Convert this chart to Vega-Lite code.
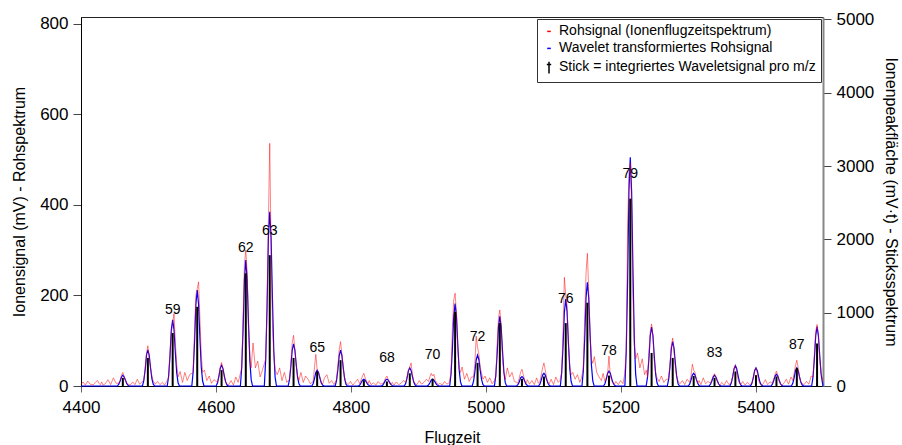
{
  "$schema": "https://vega.github.io/schema/vega-lite/v6.json",
  "width": 742,
  "height": 369,
  "autosize": {"type": "none"},
  "padding": {"left": 81, "top": 17, "right": 79, "bottom": 59},
  "background": "white",
  "datasets": {
    "raw": [
      {"t":4400,"v":3},{"t":4403,"v":9},{"t":4406.5,"v":2},{"t":4410,"v":11},{"t":4413.5,"v":4},
      {"t":4418.7,"v":3},{"t":4420.7,"v":7},{"t":4422.7,"v":10},{"t":4424.7,"v":12},{"t":4426.7,"v":6},{"t":4428.7,"v":3},{"t":4430.7,"v":9},{"t":4432.7,"v":2},
      {"t":4436,"v":5},{"t":4440,"v":14},{"t":4444,"v":3},{"t":4448,"v":18},{"t":4452,"v":6},
      {"t":4456,"v":6},{"t":4458,"v":12},{"t":4460,"v":24},{"t":4462,"v":30},{"t":4464,"v":21},{"t":4466,"v":13},{"t":4468,"v":7},{"t":4470,"v":4},
      {"t":4473,"v":2},{"t":4476.5,"v":9},{"t":4480,"v":3},{"t":4483.5,"v":15},{"t":4487,"v":4},
      {"t":4493.1,"v":13},{"t":4495.1,"v":36},{"t":4497.1,"v":71},{"t":4499.1,"v":89},{"t":4501.1,"v":62},{"t":4503.1,"v":40},{"t":4505.1,"v":22},{"t":4507.1,"v":11},
      {"t":4510,"v":4},{"t":4513.5,"v":10},{"t":4517,"v":3},{"t":4520.5,"v":8},{"t":4524,"v":2},
      {"t":4529.9,"v":18},{"t":4531.9,"v":70},{"t":4533.9,"v":118},{"t":4535.9,"v":140},{"t":4537.9,"v":160},{"t":4539.9,"v":95},{"t":4541.9,"v":48},{"t":4543.9,"v":20},
      {"t":4547,"v":32},{"t":4550.5,"v":8},{"t":4554,"v":30},{"t":4557.5,"v":12},{"t":4561,"v":25},
      {"t":4566.3,"v":30},{"t":4568.3,"v":120},{"t":4570.3,"v":200},{"t":4572.3,"v":215},{"t":4574.3,"v":230},{"t":4576.3,"v":150},{"t":4578.3,"v":70},{"t":4580.3,"v":30},
      {"t":4583,"v":35},{"t":4586.5,"v":12},{"t":4590,"v":22},{"t":4593.5,"v":6},{"t":4597,"v":14},
      {"t":4602.4,"v":8},{"t":4604.4,"v":22},{"t":4606.4,"v":42},{"t":4608.4,"v":52},{"t":4610.4,"v":38},{"t":4612.4,"v":20},{"t":4614.4,"v":10},{"t":4616.4,"v":4},
      {"t":4619,"v":3},{"t":4622.5,"v":12},{"t":4626,"v":2},{"t":4629.5,"v":20},{"t":4633,"v":8},
      {"t":4638.3,"v":40},{"t":4640.3,"v":150},{"t":4642.3,"v":270},{"t":4644.3,"v":300},{"t":4646.3,"v":250},{"t":4648.3,"v":130},{"t":4650.3,"v":65},{"t":4652.3,"v":40},
      {"t":4655,"v":95},{"t":4658.5,"v":40},{"t":4662,"v":55},{"t":4665.5,"v":20},{"t":4669,"v":35},
      {"t":4673.8,"v":60},{"t":4675.8,"v":170},{"t":4677.8,"v":360},{"t":4679.8,"v":536},{"t":4681.8,"v":300},{"t":4683.8,"v":140},{"t":4685.8,"v":70},{"t":4687.8,"v":35},
      {"t":4691,"v":25},{"t":4694.5,"v":40},{"t":4698,"v":12},{"t":4701.5,"v":30},{"t":4705,"v":8},
      {"t":4709.1,"v":15},{"t":4711.1,"v":50},{"t":4713.1,"v":95},{"t":4715.1,"v":112},{"t":4717.1,"v":80},{"t":4719.1,"v":45},{"t":4721.1,"v":22},{"t":4723.1,"v":12},
      {"t":4726,"v":30},{"t":4729.5,"v":8},{"t":4733,"v":22},{"t":4736.5,"v":15},{"t":4740,"v":5},
      {"t":4744.1,"v":10},{"t":4746.1,"v":40},{"t":4748.1,"v":70},{"t":4750.1,"v":35},{"t":4752.1,"v":30},{"t":4754.1,"v":20},{"t":4756.1,"v":8},{"t":4758.1,"v":4},
      {"t":4761,"v":18},{"t":4764.5,"v":25},{"t":4768,"v":6},{"t":4771.5,"v":12},{"t":4775,"v":3},
      {"t":4778.8,"v":14},{"t":4780.8,"v":45},{"t":4782.8,"v":80},{"t":4784.8,"v":98},{"t":4786.8,"v":70},{"t":4788.8,"v":38},{"t":4790.8,"v":18},{"t":4792.8,"v":8},
      {"t":4796,"v":3},{"t":4799.5,"v":10},{"t":4803,"v":2},{"t":4806.5,"v":8},{"t":4810,"v":15},
      {"t":4813.3,"v":5},{"t":4815.3,"v":14},{"t":4817.3,"v":22},{"t":4819.3,"v":28},{"t":4821.3,"v":18},{"t":4823.3,"v":10},{"t":4825.3,"v":4},{"t":4827.3,"v":12},
      {"t":4830,"v":3},{"t":4833.5,"v":7},{"t":4837,"v":2},{"t":4840.5,"v":10},{"t":4844,"v":4},
      {"t":4847.5,"v":6},{"t":4849.5,"v":10},{"t":4851.5,"v":18},{"t":4853.5,"v":22},{"t":4855.5,"v":14},{"t":4857.5,"v":6},{"t":4859.5,"v":3},{"t":4861.5,"v":8},
      {"t":4864,"v":2},{"t":4867.5,"v":9},{"t":4871,"v":3},{"t":4874.5,"v":6},{"t":4878,"v":12},
      {"t":4881.4,"v":8},{"t":4883.4,"v":20},{"t":4885.4,"v":35},{"t":4887.4,"v":42},{"t":4889.4,"v":51},{"t":4891.4,"v":25},{"t":4893.4,"v":10},{"t":4895.4,"v":5},
      {"t":4898,"v":3},{"t":4901.5,"v":12},{"t":4905,"v":4},{"t":4908.5,"v":8},{"t":4912,"v":15},
      {"t":4915.2,"v":10},{"t":4917.2,"v":20},{"t":4919.2,"v":28},{"t":4921.2,"v":22},{"t":4923.2,"v":26},{"t":4925.2,"v":12},{"t":4927.2,"v":8},{"t":4929.2,"v":3},
      {"t":4932,"v":6},{"t":4935.5,"v":2},{"t":4939,"v":10},{"t":4942.5,"v":4},{"t":4946,"v":8},
      {"t":4948.6,"v":30},{"t":4950.6,"v":130},{"t":4952.6,"v":190},{"t":4954.6,"v":205},{"t":4956.6,"v":160},{"t":4958.6,"v":80},{"t":4960.6,"v":40},{"t":4962.6,"v":30},
      {"t":4965,"v":42},{"t":4968.5,"v":15},{"t":4972,"v":28},{"t":4975.5,"v":10},{"t":4979,"v":20},
      {"t":4981.9,"v":20},{"t":4983.9,"v":50},{"t":4985.9,"v":110},{"t":4987.9,"v":85},{"t":4989.9,"v":70},{"t":4991.9,"v":40},{"t":4993.9,"v":28},{"t":4995.9,"v":15},
      {"t":4999,"v":22},{"t":5002.5,"v":8},{"t":5006,"v":18},{"t":5009.5,"v":5},{"t":5013,"v":12},
      {"t":5014.9,"v":20},{"t":5016.9,"v":90},{"t":5018.9,"v":150},{"t":5020.9,"v":168},{"t":5022.9,"v":130},{"t":5024.9,"v":60},{"t":5026.9,"v":30},{"t":5028.9,"v":14},
      {"t":5032,"v":40},{"t":5035.5,"v":20},{"t":5039,"v":30},{"t":5042.5,"v":10},{"t":5046,"v":8},
      {"t":5047.7,"v":6},{"t":5049.7,"v":18},{"t":5051.7,"v":30},{"t":5053.7,"v":37},{"t":5055.7,"v":25},{"t":5057.7,"v":12},{"t":5059.7,"v":5},{"t":5061.7,"v":14},
      {"t":5065,"v":4},{"t":5068.5,"v":12},{"t":5072,"v":3},{"t":5075.5,"v":18},{"t":5078,"v":6},
      {"t":5080.3,"v":10},{"t":5082.3,"v":24},{"t":5084.3,"v":40},{"t":5086.3,"v":51},{"t":5088.3,"v":35},{"t":5090.3,"v":18},{"t":5092.3,"v":8},{"t":5094.3,"v":5},
      {"t":5097,"v":15},{"t":5100.5,"v":3},{"t":5104,"v":20},{"t":5107.5,"v":8},{"t":5110,"v":12},
      {"t":5112.6,"v":30},{"t":5114.6,"v":120},{"t":5116.6,"v":240},{"t":5118.6,"v":200},{"t":5120.6,"v":180},{"t":5122.6,"v":90},{"t":5124.6,"v":45},{"t":5126.6,"v":25},
      {"t":5129,"v":30},{"t":5132.5,"v":15},{"t":5136,"v":25},{"t":5139.5,"v":8},{"t":5142,"v":18},
      {"t":5144.7,"v":40},{"t":5146.7,"v":150},{"t":5148.7,"v":250},{"t":5150.7,"v":293},{"t":5152.7,"v":210},{"t":5154.7,"v":110},{"t":5156.7,"v":60},{"t":5158.7,"v":50},
      {"t":5161,"v":65},{"t":5164.5,"v":30},{"t":5168,"v":20},{"t":5171.5,"v":12},{"t":5174,"v":28},
      {"t":5176.7,"v":10},{"t":5178.7,"v":18},{"t":5180.7,"v":28},{"t":5182.7,"v":66},{"t":5184.7,"v":22},{"t":5186.7,"v":12},{"t":5188.7,"v":6},{"t":5190.7,"v":4},
      {"t":5193,"v":10},{"t":5196.5,"v":3},{"t":5200,"v":12},{"t":5203.5,"v":5},{"t":5206,"v":25},
      {"t":5208.3,"v":80},{"t":5210.3,"v":350},{"t":5212.3,"v":470},{"t":5214.3,"v":492},{"t":5216.3,"v":400},{"t":5218.3,"v":200},{"t":5220.3,"v":90},{"t":5222.3,"v":60},
      {"t":5225,"v":73},{"t":5228.5,"v":40},{"t":5232,"v":60},{"t":5235.5,"v":25},{"t":5238,"v":35},
      {"t":5239.9,"v":20},{"t":5241.9,"v":70},{"t":5243.9,"v":120},{"t":5245.9,"v":137},{"t":5247.9,"v":110},{"t":5249.9,"v":55},{"t":5251.9,"v":30},{"t":5253.9,"v":18},
      {"t":5257,"v":10},{"t":5260.5,"v":22},{"t":5264,"v":8},{"t":5267.5,"v":15},
      {"t":5271.2,"v":15},{"t":5273.2,"v":50},{"t":5275.2,"v":90},{"t":5277.2,"v":106},{"t":5279.2,"v":75},{"t":5281.2,"v":40},{"t":5283.2,"v":20},{"t":5285.2,"v":10},
      {"t":5288,"v":5},{"t":5291.5,"v":12},{"t":5295,"v":3},{"t":5298.5,"v":15},
      {"t":5302.3,"v":8},{"t":5304.3,"v":22},{"t":5306.3,"v":48},{"t":5308.3,"v":35},{"t":5310.3,"v":30},{"t":5312.3,"v":14},{"t":5314.3,"v":6},{"t":5316.3,"v":12},
      {"t":5319,"v":3},{"t":5322.5,"v":18},{"t":5326,"v":5},{"t":5329.5,"v":10},
      {"t":5333.2,"v":6},{"t":5335.2,"v":14},{"t":5337.2,"v":22},{"t":5339.2,"v":27},{"t":5341.2,"v":20},{"t":5343.2,"v":10},{"t":5345.2,"v":4},{"t":5347.2,"v":2},
      {"t":5350,"v":8},{"t":5353.5,"v":2},{"t":5357,"v":12},{"t":5360.5,"v":3},
      {"t":5364.1,"v":8},{"t":5366.1,"v":22},{"t":5368.1,"v":38},{"t":5370.1,"v":46},{"t":5372.1,"v":32},{"t":5374.1,"v":15},{"t":5376.1,"v":6},{"t":5378.1,"v":3},
      {"t":5381,"v":10},{"t":5384.5,"v":2},{"t":5388,"v":8},{"t":5391.5,"v":3},
      {"t":5394.6,"v":6},{"t":5396.6,"v":18},{"t":5398.6,"v":32},{"t":5400.6,"v":40},{"t":5402.6,"v":28},{"t":5404.6,"v":12},{"t":5406.6,"v":5},{"t":5408.6,"v":2},
      {"t":5411,"v":4},{"t":5414.5,"v":14},{"t":5418,"v":3},{"t":5421.5,"v":9},
      {"t":5425,"v":6},{"t":5427,"v":16},{"t":5429,"v":26},{"t":5431,"v":33},{"t":5433,"v":24},{"t":5435,"v":10},{"t":5437,"v":4},{"t":5439,"v":2},
      {"t":5442,"v":6},{"t":5445.5,"v":15},{"t":5449,"v":4},{"t":5452.5,"v":20},
      {"t":5455.2,"v":12},{"t":5457.2,"v":28},{"t":5459.2,"v":45},{"t":5461.2,"v":57},{"t":5463.2,"v":40},{"t":5465.2,"v":20},{"t":5467.2,"v":9},{"t":5469.2,"v":5},
      {"t":5472,"v":3},{"t":5475.5,"v":10},{"t":5479,"v":4},{"t":5482.5,"v":22},
      {"t":5485.2,"v":20},{"t":5487.2,"v":70},{"t":5489.2,"v":120},{"t":5491.2,"v":136},{"t":5493.2,"v":110},{"t":5495.2,"v":60},{"t":5497.2,"v":30},{"t":5499.2,"v":12},{"t":5500,"v":8}
    ],
    "wav": [
      {"t":4400,"v":0},
      {"t":4454,"v":0},{"t":4456,"v":4},{"t":4458,"v":11},{"t":4460,"v":20},{"t":4462,"v":24},{"t":4464,"v":20},{"t":4466,"v":12},{"t":4468,"v":5},{"t":4470,"v":1},{"t":4472,"v":0},
      {"t":4491.1,"v":0},{"t":4493.1,"v":12},{"t":4495.1,"v":36},{"t":4497.1,"v":68},{"t":4499.1,"v":80},{"t":4501.1,"v":68},{"t":4503.1,"v":40},{"t":4505.1,"v":16},{"t":4507.1,"v":4},{"t":4509.1,"v":0},
      {"t":4527.9,"v":0},{"t":4529.9,"v":22},{"t":4531.9,"v":66},{"t":4533.9,"v":124},{"t":4535.9,"v":146},{"t":4537.9,"v":124},{"t":4539.9,"v":73},{"t":4541.9,"v":29},{"t":4543.9,"v":7},{"t":4545.9,"v":0},
      {"t":4564.3,"v":0},{"t":4566.3,"v":32},{"t":4568.3,"v":95},{"t":4570.3,"v":180},{"t":4572.3,"v":212},{"t":4574.3,"v":180},{"t":4576.3,"v":106},{"t":4578.3,"v":42},{"t":4580.3,"v":11},{"t":4582.3,"v":0},
      {"t":4600.4,"v":0},{"t":4602.4,"v":7},{"t":4604.4,"v":21},{"t":4606.4,"v":39},{"t":4608.4,"v":46},{"t":4610.4,"v":39},{"t":4612.4,"v":23},{"t":4614.4,"v":9},{"t":4616.4,"v":2},{"t":4618.4,"v":0},
      {"t":4636.3,"v":0},{"t":4638.3,"v":42},{"t":4640.3,"v":125},{"t":4642.3,"v":236},{"t":4644.3,"v":278},{"t":4646.3,"v":236},{"t":4648.3,"v":139},{"t":4650.3,"v":56},{"t":4652.3,"v":14},{"t":4654.3,"v":0},
      {"t":4671.8,"v":0},{"t":4673.8,"v":58},{"t":4675.8,"v":173},{"t":4677.8,"v":327},{"t":4679.8,"v":385},{"t":4681.8,"v":327},{"t":4683.8,"v":193},{"t":4685.8,"v":77},{"t":4687.8,"v":19},{"t":4689.8,"v":0},
      {"t":4707.1,"v":0},{"t":4709.1,"v":14},{"t":4711.1,"v":42},{"t":4713.1,"v":79},{"t":4715.1,"v":93},{"t":4717.1,"v":79},{"t":4719.1,"v":47},{"t":4721.1,"v":19},{"t":4723.1,"v":5},{"t":4725.1,"v":0},
      {"t":4742.1,"v":0},{"t":4744.1,"v":5},{"t":4746.1,"v":16},{"t":4748.1,"v":30},{"t":4750.1,"v":35},{"t":4752.1,"v":30},{"t":4754.1,"v":18},{"t":4756.1,"v":7},{"t":4758.1,"v":2},{"t":4760.1,"v":0},
      {"t":4776.8,"v":0},{"t":4778.8,"v":12},{"t":4780.8,"v":36},{"t":4782.8,"v":67},{"t":4784.8,"v":79},{"t":4786.8,"v":67},{"t":4788.8,"v":40},{"t":4790.8,"v":16},{"t":4792.8,"v":4},{"t":4794.8,"v":0},
      {"t":4811.3,"v":0},{"t":4813.3,"v":2},{"t":4815.3,"v":7},{"t":4817.3,"v":13},{"t":4819.3,"v":15},{"t":4821.3,"v":13},{"t":4823.3,"v":8},{"t":4825.3,"v":3},{"t":4827.3,"v":1},{"t":4829.3,"v":0},
      {"t":4845.5,"v":0},{"t":4847.5,"v":2},{"t":4849.5,"v":7},{"t":4851.5,"v":13},{"t":4853.5,"v":15},{"t":4855.5,"v":13},{"t":4857.5,"v":8},{"t":4859.5,"v":3},{"t":4861.5,"v":1},{"t":4863.5,"v":0},
      {"t":4879.4,"v":0},{"t":4881.4,"v":6},{"t":4883.4,"v":18},{"t":4885.4,"v":34},{"t":4887.4,"v":40},{"t":4889.4,"v":34},{"t":4891.4,"v":20},{"t":4893.4,"v":8},{"t":4895.4,"v":2},{"t":4897.4,"v":0},
      {"t":4913.2,"v":0},{"t":4915.2,"v":2},{"t":4917.2,"v":7},{"t":4919.2,"v":13},{"t":4921.2,"v":15},{"t":4923.2,"v":13},{"t":4925.2,"v":8},{"t":4927.2,"v":3},{"t":4929.2,"v":1},{"t":4931.2,"v":0},
      {"t":4946.6,"v":0},{"t":4948.6,"v":27},{"t":4950.6,"v":82},{"t":4952.6,"v":155},{"t":4954.6,"v":182},{"t":4956.6,"v":155},{"t":4958.6,"v":91},{"t":4960.6,"v":36},{"t":4962.6,"v":9},{"t":4964.6,"v":0},
      {"t":4979.9,"v":0},{"t":4981.9,"v":10},{"t":4983.9,"v":31},{"t":4985.9,"v":58},{"t":4987.9,"v":68},{"t":4989.9,"v":58},{"t":4991.9,"v":34},{"t":4993.9,"v":14},{"t":4995.9,"v":3},{"t":4997.9,"v":0},
      {"t":5012.9,"v":0},{"t":5014.9,"v":23},{"t":5016.9,"v":69},{"t":5018.9,"v":131},{"t":5020.9,"v":154},{"t":5022.9,"v":131},{"t":5024.9,"v":77},{"t":5026.9,"v":31},{"t":5028.9,"v":8},{"t":5030.9,"v":0},
      {"t":5045.7,"v":0},{"t":5047.7,"v":3},{"t":5049.7,"v":9},{"t":5051.7,"v":18},{"t":5053.7,"v":21},{"t":5055.7,"v":18},{"t":5057.7,"v":11},{"t":5059.7,"v":4},{"t":5061.7,"v":1},{"t":5063.7,"v":0},
      {"t":5078.3,"v":0},{"t":5080.3,"v":4},{"t":5082.3,"v":13},{"t":5084.3,"v":24},{"t":5086.3,"v":28},{"t":5088.3,"v":24},{"t":5090.3,"v":14},{"t":5092.3,"v":6},{"t":5094.3,"v":1},{"t":5096.3,"v":0},
      {"t":5110.6,"v":0},{"t":5112.6,"v":29},{"t":5114.6,"v":86},{"t":5116.6,"v":163},{"t":5118.6,"v":192},{"t":5120.6,"v":163},{"t":5122.6,"v":96},{"t":5124.6,"v":38},{"t":5126.6,"v":10},{"t":5128.6,"v":0},
      {"t":5142.7,"v":0},{"t":5144.7,"v":34},{"t":5146.7,"v":103},{"t":5148.7,"v":195},{"t":5150.7,"v":229},{"t":5152.7,"v":195},{"t":5154.7,"v":115},{"t":5156.7,"v":46},{"t":5158.7,"v":11},{"t":5160.7,"v":0},
      {"t":5174.7,"v":0},{"t":5176.7,"v":5},{"t":5178.7,"v":15},{"t":5180.7,"v":28},{"t":5182.7,"v":33},{"t":5184.7,"v":28},{"t":5186.7,"v":17},{"t":5188.7,"v":7},{"t":5190.7,"v":2},{"t":5192.7,"v":0},
      {"t":5206.3,"v":0},{"t":5208.3,"v":76},{"t":5210.3,"v":227},{"t":5212.3,"v":429},{"t":5214.3,"v":505},{"t":5216.3,"v":429},{"t":5218.3,"v":253},{"t":5220.3,"v":101},{"t":5222.3,"v":25},{"t":5224.3,"v":0},
      {"t":5237.9,"v":0},{"t":5239.9,"v":20},{"t":5241.9,"v":59},{"t":5243.9,"v":111},{"t":5245.9,"v":130},{"t":5247.9,"v":111},{"t":5249.9,"v":65},{"t":5251.9,"v":26},{"t":5253.9,"v":7},{"t":5255.9,"v":0},
      {"t":5269.2,"v":0},{"t":5271.2,"v":15},{"t":5273.2,"v":44},{"t":5275.2,"v":83},{"t":5277.2,"v":98},{"t":5279.2,"v":83},{"t":5281.2,"v":49},{"t":5283.2,"v":20},{"t":5285.2,"v":5},{"t":5287.2,"v":0},
      {"t":5300.3,"v":0},{"t":5302.3,"v":4},{"t":5304.3,"v":13},{"t":5306.3,"v":24},{"t":5308.3,"v":28},{"t":5310.3,"v":24},{"t":5312.3,"v":14},{"t":5314.3,"v":6},{"t":5316.3,"v":1},{"t":5318.3,"v":0},
      {"t":5331.2,"v":0},{"t":5333.2,"v":4},{"t":5335.2,"v":11},{"t":5337.2,"v":20},{"t":5339.2,"v":24},{"t":5341.2,"v":20},{"t":5343.2,"v":12},{"t":5345.2,"v":5},{"t":5347.2,"v":1},{"t":5349.2,"v":0},
      {"t":5362.1,"v":0},{"t":5364.1,"v":7},{"t":5366.1,"v":20},{"t":5368.1,"v":38},{"t":5370.1,"v":45},{"t":5372.1,"v":38},{"t":5374.1,"v":23},{"t":5376.1,"v":9},{"t":5378.1,"v":2},{"t":5380.1,"v":0},
      {"t":5392.6,"v":0},{"t":5394.6,"v":6},{"t":5396.6,"v":18},{"t":5398.6,"v":34},{"t":5400.6,"v":40},{"t":5402.6,"v":34},{"t":5404.6,"v":20},{"t":5406.6,"v":8},{"t":5408.6,"v":2},{"t":5410.6,"v":0},
      {"t":5423,"v":0},{"t":5425,"v":4},{"t":5427,"v":12},{"t":5429,"v":22},{"t":5431,"v":26},{"t":5433,"v":22},{"t":5435,"v":13},{"t":5437,"v":5},{"t":5439,"v":1},{"t":5441,"v":0},
      {"t":5453.2,"v":0},{"t":5455.2,"v":6},{"t":5457.2,"v":18},{"t":5459.2,"v":34},{"t":5461.2,"v":40},{"t":5463.2,"v":34},{"t":5465.2,"v":20},{"t":5467.2,"v":8},{"t":5469.2,"v":2},{"t":5471.2,"v":0},
      {"t":5483.2,"v":0},{"t":5485.2,"v":20},{"t":5487.2,"v":59},{"t":5489.2,"v":111},{"t":5491.2,"v":131},{"t":5493.2,"v":111},{"t":5495.2,"v":66},{"t":5497.2,"v":26},{"t":5499.2,"v":7},{"t":5500,"v":0}
    ],
    "sticks": [
      {"t":4462.0,"s":111},{"t":4499.1,"s":383},{"t":4535.9,"s":722},{"t":4572.3,"s":1080},{"t":4608.4,"s":216},
      {"t":4644.3,"s":1537},{"t":4679.8,"s":1784},{"t":4715.1,"s":383},{"t":4750.1,"s":198},{"t":4784.8,"s":352},
      {"t":4819.3,"s":80},{"t":4853.5,"s":62},{"t":4887.4,"s":173},{"t":4921.2,"s":99},{"t":4954.6,"s":1012},
      {"t":4987.9,"s":315},{"t":5020.9,"s":858},{"t":5053.7,"s":99},{"t":5086.3,"s":130},{"t":5118.6,"s":858},
      {"t":5150.7,"s":1136},{"t":5182.7,"s":142},{"t":5214.3,"s":2555},{"t":5245.9,"s":451},{"t":5277.2,"s":383},
      {"t":5308.3,"s":136},{"t":5339.2,"s":111},{"t":5370.1,"s":198},{"t":5400.6,"s":148},{"t":5431.0,"s":130},
      {"t":5461.2,"s":247},{"t":5491.2,"s":580}
    ],
    "labels": [
      {"t":4535.9,"v":168,"m":"59"},{"t":4644.3,"v":305,"m":"62"},{"t":4679.8,"v":342,"m":"63"},
      {"t":4750.1,"v":84,"m":"65"},{"t":4853.5,"v":62,"m":"68"},{"t":4921.2,"v":68,"m":"70"},
      {"t":4987.9,"v":108,"m":"72"},{"t":5118.6,"v":192,"m":"76"},{"t":5182.7,"v":77,"m":"78"},
      {"t":5214.3,"v":468,"m":"79"},{"t":5339.2,"v":73,"m":"83"},{"t":5461.2,"v":91,"m":"87"}
    ],
    "leg": [
      {"k":"Rohsignal (Ionenflugzeitspektrum)"},
      {"k":"Wavelet transformiertes Rohsignal"},
      {"k":"Stick = integriertes Waveletsignal pro m/z"}
    ]
  },
  "layer": [
    {
      "encoding": {
        "x": {"field": "t", "type": "quantitative",
          "scale": {"domain": [4400, 5500], "nice": false, "zero": false},
          "axis": {"values": [4400, 4600, 4800, 5000, 5200, 5400], "format": "d", "tickSize": 6, "tickColor": "#666",
            "domainColor": "#000", "labelFontSize": 17, "labelPadding": 7, "title": "Flugzeit", "titleFontSize": 16, "titlePadding": 14}},
        "y": {"field": "v", "type": "quantitative",
          "scale": {"domain": [0, 815], "nice": false},
          "axis": {"orient": "left", "values": [0, 200, 400, 600, 800], "tickSize": 8, "tickColor": "#444", "domainColor": "#000",
            "labelFontSize": 17, "labelPadding": 5, "title": "Ionensignal (mV) - Rohspektrum", "titleFontSize": 16, "titlePadding": 12}}
      },
      "layer": [
        {"data": {"name": "wav"}, "mark": {"type": "line", "color": "#0000ff", "strokeWidth": 1.2}},
        {"data": {"name": "raw"}, "mark": {"type": "line", "color": "#ff0000", "strokeWidth": 0.9, "opacity": 0.55}},
        {"data": {"name": "labels"}, "mark": {"type": "text", "font": "Liberation Sans", "fontSize": 14, "color": "#000", "baseline": "middle", "align": "center"},
          "encoding": {"text": {"field": "m", "type": "nominal"}}}
      ]
    },
    {
      "data": {"name": "sticks"},
      "mark": {"type": "rule", "color": "#000", "strokeWidth": 2},
      "encoding": {
        "x": {"field": "t", "type": "quantitative",
          "scale": {"domain": [4400, 5500], "nice": false, "zero": false}},
        "y": {"field": "s", "type": "quantitative",
          "scale": {"domain": [0, 5032], "nice": false},
          "axis": {"orient": "right", "values": [0, 1000, 2000, 3000, 4000, 5000], "format": "d", "tickSize": 8, "tickColor": "#444",
            "domainColor": "#888", "domainWidth": 2, "labelFontSize": 17, "labelPadding": 5,
            "title": "Ionenpeakfläche (mV·t) - Sticksspektrum", "titleFontSize": 16, "titlePadding": 9}},
        "y2": {"datum": 0}
      }
    },
    {
      "data": {"name": "leg"},
      "mark": {"type": "point", "filled": false, "opacity": 0},
      "encoding": {
        "color": {"field": "k", "type": "nominal",
          "scale": {"domain": ["Rohsignal (Ionenflugzeitspektrum)", "Wavelet transformiertes Rohsignal", "Stick = integriertes Waveletsignal pro m/z"], "range": ["#ff0000", "#0000ff", "#000000"]},
          "legend": {"title": null, "symbolOpacity": 1}},
        "shape": {"field": "k", "type": "nominal",
          "scale": {"domain": ["Rohsignal (Ionenflugzeitspektrum)", "Wavelet transformiertes Rohsignal", "Stick = integriertes Waveletsignal pro m/z"], "range": ["M-0.45,0.1H0.45", "M-0.45,0.1H0.45", "M0,-1.3V1.6M-0.55,-0.6H0.55"]},
          "legend": {"title": null, "symbolOpacity": 1}}
      }
    }
  ],
  "resolve": {"scale": {"y": "independent"}},
  "config": {
    "view": {"stroke": "#222", "strokeWidth": 1},
    "font": "Liberation Sans",
    "axis": {"grid": false, "labelFont": "Liberation Sans", "titleFont": "Liberation Sans", "labelColor": "#000", "titleColor": "#000",
      "titleFontWeight": "normal", "labelFlush": false, "labelOverlap": false},
    "legend": {"orient": "top-right", "offset": 2, "strokeColor": "#333", "fillColor": "#fff", "padding": 5,
      "labelFont": "Liberation Sans", "labelFontSize": 14, "labelColor": "#000", "labelLimit": 400, "labelOffset": 3,
      "symbolSize": 64, "symbolStrokeWidth": 1.5, "symbolFillColor": "transparent", "rowPadding": 3, "symbolOpacity": 1}
  }
}
